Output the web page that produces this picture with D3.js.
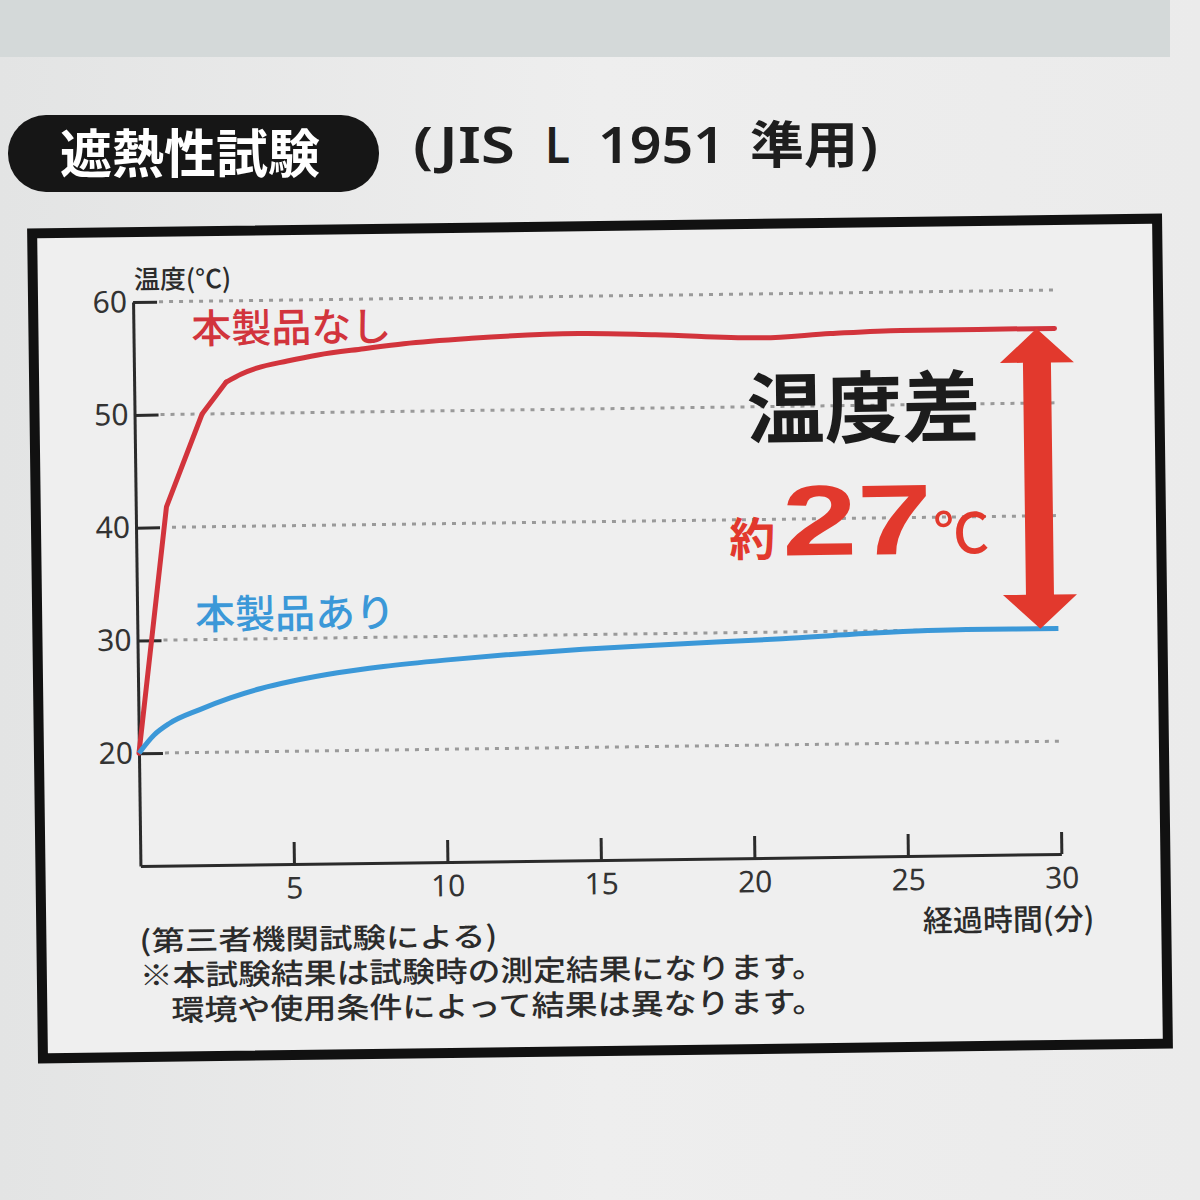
<!DOCTYPE html>
<html><head><meta charset="utf-8">
<script src="https://cdn.jsdelivr.net/npm/d3@7"></script>
<style>
html,body{margin:0;padding:0;background:#eaebeb;}
svg{display:block;}
text{font-family:'Noto Sans CJK JP','Noto Sans',sans-serif;}
</style></head>
<body>
<svg id="c" width="1200" height="1200"></svg>
<script>
// ---- data ----
const xTicks = [5, 10, 15, 20, 25, 30];
const yTicks = [20, 30, 40, 50, 60];
const timeWithout = [0, 1, 2.2, 3, 3.5, 4, 5, 6, 7.5, 8.8, 11, 14.5, 17, 20.5, 22.7, 25, 30];
const tempWithout = [20, 41.8, 50, 52.8, 53.5, 54, 54.6, 55.1, 55.6, 56, 56.4, 56.7, 56.5, 56.1, 56.4, 56.6, 56.6];
const timeWith = [0, 0.5, 1, 2, 3, 4, 5, 6.5, 8, 10, 12, 14.5, 17, 21, 24, 27, 30];
const tempWith = [20, 21.6, 22.6, 23.8, 24.8, 25.6, 26.2, 26.9, 27.4, 27.9, 28.3, 28.7, 29.0, 29.4, 29.8, 30.0, 30.0];
const seriesNames = ["本製品なし", "本製品あり"];
const titleText = "遮熱性試験";
const subtitleParts = ["(JIS", "L", "1951", "準用", ")"];
const yLabel = "温度(°C)";
const xLabel = "経過時間(分)";
const diffLabel = "温度差";
const diffPrefix = "約";
const diffValue = "27";
const diffUnit = "℃";
const notes = ["(第三者機関試験による)", "※本試験結果は試験時の測定結果になります。", "環境や使用条件によって結果は異なります。"];

const svg = d3.select("#c");
const red = "#d2343c", blue = "#3b98d8", arrowRed = "#e2392d", ink = "#2b2b2b";

// background
const defs = svg.append("defs");
const g1 = defs.append("linearGradient").attr("id","bg").attr("x1","0").attr("x2","1").attr("y1","0").attr("y2","0");
g1.append("stop").attr("offset","0").attr("stop-color","#e3e4e4");
g1.append("stop").attr("offset","0.5").attr("stop-color","#eeeeee");
g1.append("stop").attr("offset","1").attr("stop-color","#ebebeb");
svg.append("rect").attr("width",1200).attr("height",1200).attr("fill","url(#bg)");
svg.append("rect").attr("x",0).attr("y",0).attr("width",1170).attr("height",57).attr("fill","#d4d9d9");

// title
svg.append("rect").attr("x",8).attr("y",115).attr("width",371).attr("height",77).attr("rx",38).attr("fill","#161616");
svg.append("text").attr("x",190).attr("y",173).attr("text-anchor","middle").attr("fill","#fff")
  .attr("font-size",52).attr("font-weight",700).text(titleText);
const subX = [413, 545, 598, 750, 860];
const subW = [102, 25, 127, 108, 18];
const sub = svg.append("g").attr("fill","#1e1e1e").attr("font-size",50).attr("font-weight",600);
subtitleParts.forEach((p,i)=>{
  sub.append("text").attr("x",subX[i]).attr("y",163)
    .style("font-family", i===3 ? "'Noto Sans CJK JP',sans-serif" : "'Noto Sans','Liberation Sans',sans-serif")
    .attr("textLength",subW[i]).attr("lengthAdjust","spacingAndGlyphs").text(p);
});

// chart group, slightly tilted as in the photographed original
const chart = svg.append("g").attr("transform","rotate(-0.75,600,600)");

// frame
chart.append("rect").attr("x",37).attr("y",226).attr("width",1125).attr("height",825)
  .attr("fill","#efefef").attr("stroke","#111").attr("stroke-width",10);

// scales
const x = d3.scaleLinear().domain([0,30]).range([137,1058]);
const y = d3.scaleLinear().domain([10,60]).range([860,296]);

// gridlines
chart.append("g").selectAll("line").data(yTicks).join("line")
  .attr("x1",x(0)+26).attr("x2",x(30)).attr("y1",d=>y(d)).attr("y2",d=>y(d))
  .attr("stroke","#9a9a9a").attr("stroke-width",3).attr("stroke-dasharray","4 6");

// axes
const yAxis = d3.axisLeft(y).tickValues(yTicks).tickSizeInner(-24).tickSizeOuter(0).tickPadding(6);
const gy = chart.append("g").attr("transform",`translate(${x(0)},0)`).call(yAxis);
const xAxis = d3.axisBottom(x).tickValues(xTicks).tickSizeInner(-22).tickSizeOuter(0).tickPadding(13);
const gx = chart.append("g").attr("transform",`translate(0,${y(10)})`).call(xAxis);
[gy,gx].forEach(g=>{
  g.selectAll("path.domain,line").attr("stroke",ink).attr("stroke-width",3);
  g.selectAll("text").attr("fill","#333").attr("font-size",30)
   .style("font-family","'Noto Sans','Liberation Sans',sans-serif");
});

// axis labels
chart.append("text").attr("x",138).attr("y",283).attr("fill",ink).attr("font-size",26).attr("font-weight",500).text(yLabel);
chart.append("text").attr("x",1090).attr("y",936).attr("text-anchor","end").attr("fill",ink).attr("font-size",30).attr("font-weight",500).text(xLabel);

// lines: steep linear rise, then a smooth plateau
const line = d3.line().x(d=>x(d[0])).y(d=>y(d[1])).curve(d3.curveLinear);
const smooth = d3.line().x(d=>x(d[0])).y(d=>y(d[1])).curve(d3.curveMonotoneX);
const redPts = d3.zip(timeWithout,tempWithout);
const redG = chart.append("g").attr("fill","none").attr("stroke",red).attr("stroke-width",5)
  .attr("stroke-linejoin","round").attr("stroke-linecap","round");
redG.append("path").datum(redPts.slice(0,4)).attr("d",line);
redG.append("path").datum(redPts.slice(3)).attr("d",smooth);
chart.append("path").datum(d3.zip(timeWith,tempWith)).attr("d",smooth)
  .attr("fill","none").attr("stroke",blue).attr("stroke-width",5).attr("stroke-linejoin","round");

// series labels
chart.append("text").attr("x",195).attr("y",338).attr("fill",red).attr("font-size",40).attr("font-weight",500).text(seriesNames[0]);
chart.append("text").attr("x",195).attr("y",624).attr("fill",blue).attr("font-size",40).attr("font-weight",500).text(seriesNames[1]);

// difference arrow
const ax = x(30) - 18;
const yTop = y(tempWithout[tempWithout.length-1]);
const yBot = y(tempWith[tempWith.length-1]);
const hw = 37, sw = 14, hl = 34;
const arrowPath = d3.path();
arrowPath.moveTo(ax, yTop);
arrowPath.lineTo(ax+hw, yTop+hl);
arrowPath.lineTo(ax+sw, yTop+hl);
arrowPath.lineTo(ax+sw, yBot-hl);
arrowPath.lineTo(ax+hw, yBot-hl);
arrowPath.lineTo(ax, yBot);
arrowPath.lineTo(ax-hw, yBot-hl);
arrowPath.lineTo(ax-sw, yBot-hl);
arrowPath.lineTo(ax-sw, yTop+hl);
arrowPath.lineTo(ax-hw, yTop+hl);
arrowPath.closePath();
chart.append("path").attr("d",arrowPath.toString()).attr("fill",arrowRed);

// difference text
chart.append("text").attr("x",866).attr("y",440).attr("text-anchor","middle").attr("fill","#1c1c1c")
  .attr("font-size",78).attr("font-weight",700).text(diffLabel);
chart.append("text").attr("x",730).attr("y",558).attr("fill",arrowRed).attr("font-size",46).attr("font-weight",700).text(diffPrefix);
chart.append("text").attr("x",783).attr("y",558).attr("fill",arrowRed).attr("font-size",100).attr("font-weight",700)
  .style("font-family","'Liberation Sans','Noto Sans',sans-serif")
  .attr("textLength",150).attr("lengthAdjust","spacingAndGlyphs").text(diffValue);
chart.append("text").attr("x",934).attr("y",558).attr("fill",arrowRed).attr("font-size",56).attr("font-weight",500).text(diffUnit);

// notes
chart.append("text").attr("x",135).attr("y",945).attr("fill",ink).attr("font-size",28).attr("font-weight",500)
  .attr("textLength",358).attr("lengthAdjust","spacingAndGlyphs").text(notes[0]);
chart.append("text").attr("x",135).attr("y",980).attr("fill",ink).attr("font-size",29).attr("font-weight",500)
  .attr("textLength",685).attr("lengthAdjust","spacingAndGlyphs").text(notes[1]);
chart.append("text").attr("x",166).attr("y",1015).attr("fill",ink).attr("font-size",29).attr("font-weight",500)
  .attr("textLength",654).attr("lengthAdjust","spacingAndGlyphs").text(notes[2]);
</script>
</body></html>
